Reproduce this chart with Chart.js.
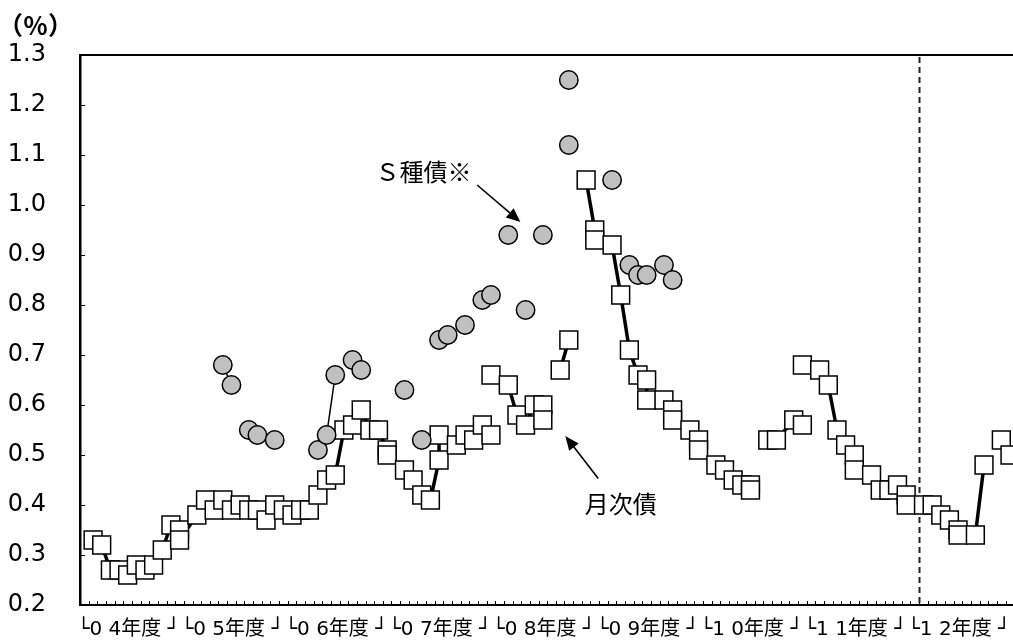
<!DOCTYPE html>
<html>
<head>
<meta charset="utf-8">
<script src="https://cdn.jsdelivr.net/npm/chart.js@4.4.1/dist/chart.umd.min.js"></script>
<style>
  html, body { margin: 0; padding: 0; background: #fff; }
  #wrap { width: 1013px; height: 641px; }
</style>
</head>
<body>
<div id="wrap"><canvas id="chart" width="1013" height="641"></canvas></div>
<script>
// month index counted from April 2004 (FY04 = 0..11), rates in %
// null rate = break in the line
const monthlyIdx = [
  0, 1, 2, 3, 4, 5, 6, 7, 8, 9,
  10, 10, 12, 13, 14, 15, 16, 17, 18, 19,
  20, 21, 22, 23, 24, 25, 26, 27, 28, 29,
  30, 31, 32, 33, 34, 34, 36, 37, 38, 39,
  40, 40, 42, 43, 44, 45, 46, 46, 46, 48,
  49, 50, 51, 52, 52, 53, 54, 55, 56, 57,
  58, 58, 60, 61, 62, 63, 64, 64, 66, 67,
  67, 69, 70, 70, 72, 73, 74, 75, 76, 76,
  77, 78, 79, 81, 82, 82, 82, 84, 85, 86,
  87, 88, 88, 90, 91, 92, 93, 94, 94, 96,
  97, 98, 99, 100, 100, 102, 103, 104, 105, 106
];
const monthlyRate = [
  0.33, 0.32, 0.27, 0.27, 0.26, 0.28, 0.27, 0.28, 0.31, 0.36,
  0.35, 0.33, 0.38, 0.41, 0.39, 0.41, 0.39, 0.40, 0.39, 0.39,
  0.37, 0.40, 0.39, 0.38, 0.39, 0.39, 0.42, 0.45, 0.46, 0.55,
  0.56, 0.59, 0.55, 0.55, 0.51, 0.50, 0.47, 0.45, 0.42, 0.41,
  0.49, 0.54, 0.52, 0.54, 0.53, 0.56, 0.54, null, 0.66, 0.64,
  0.58, 0.56, 0.60, 0.60, 0.57, null, 0.67, 0.73, null, 1.05,
  0.95, 0.93, 0.92, 0.82, 0.71, 0.66, 0.65, 0.61, 0.61, 0.59,
  0.57, 0.55, 0.53, 0.51, 0.48, 0.47, 0.45, 0.44, 0.44, 0.43,
  null, 0.53, 0.53, 0.57, 0.56, null, 0.68, 0.67, 0.64, 0.55,
  0.52, 0.50, 0.47, 0.46, 0.43, 0.43, 0.44, 0.42, 0.40, 0.40,
  0.40, 0.38, 0.37, 0.35, 0.34, 0.34, 0.48, null, 0.53, 0.50
];

// S種債 (issued irregularly)
const sIdx = [15, 16, 18, 19, 21, 26, 27, 28, 30, 31, 36, 38, 40, 41, 43, 45, 46, 48, 50, 52, 55, 55, 60, 62, 63, 64, 66, 67];
const sRate = [0.68, 0.64, 0.55, 0.54, 0.53, 0.51, 0.54, 0.66, 0.69, 0.67, 0.63, 0.53, 0.73, 0.74, 0.76, 0.81, 0.82, 0.94, 0.79, 0.94, 1.25, 1.12, 1.05, 0.88, 0.86, 0.86, 0.88, 0.85];

const yTicks = [0.2, 0.3, 0.4, 0.5, 0.6, 0.7, 0.8, 0.9, 1.0, 1.1, 1.2, 1.3];
const fyLabels = ["└0 4年度 ┘", "└0 5年度 ┘", "└0 6年度 ┘", "└0 7年度 ┘", "└0 8年度 ┘",
                  "└0 9年度 ┘", "└1 0年度 ┘", "└1 1年度 ┘", "└1 2年度 ┘"];
const monthCount = 108;
const fy12Start = 95.5;

const notes = [
  { text: "Ｓ種債※", x: 38.2, y: 1.067, from: [44.4, 1.04], to: [49.4, 0.966] },
  { text: "月次債", x: 61.0, y: 0.403, from: [58.4, 0.453], to: [54.6, 0.538] }
];

function monthlyPoints() {
  let pts = [];
  for (let i = 0; i < monthlyIdx.length; i++) {
    pts.push({ x: monthlyIdx[i], y: monthlyRate[i] });
  }
  return pts;
}

function sPoints() {
  let pts = [];
  for (let i = 0; i < sIdx.length; i++) {
    if (i > 0 && sIdx[i] - sIdx[i - 1] !== 1) {
      pts.push({ x: (sIdx[i] + sIdx[i - 1]) / 2, y: null });
    }
    pts.push({ x: sIdx[i], y: sRate[i] });
  }
  return pts;
}

function drawArrow(ctx, x1, y1, x2, y2) {
  let ang = Math.atan2(y2 - y1, x2 - x1);
  let head = 14, half = 6;
  ctx.beginPath();
  ctx.moveTo(x1, y1);
  ctx.lineTo(x2 - Math.cos(ang) * head * 0.8, y2 - Math.sin(ang) * head * 0.8);
  ctx.stroke();
  ctx.beginPath();
  ctx.moveTo(x2, y2);
  ctx.lineTo(x2 - Math.cos(ang) * head - Math.sin(ang) * half, y2 - Math.sin(ang) * head + Math.cos(ang) * half);
  ctx.lineTo(x2 - Math.cos(ang) * head + Math.sin(ang) * half, y2 - Math.sin(ang) * head - Math.cos(ang) * half);
  ctx.closePath();
  ctx.fill();
}

const frame = {
  id: "frame",
  beforeDatasetsDraw(chart) {
    let ctx = chart.ctx;
    let area = chart.chartArea;
    let xs = chart.scales.x;
    let ys = chart.scales.y;
    ctx.save();
    ctx.strokeStyle = "#000";
    // top border
    ctx.lineWidth = 2;
    ctx.beginPath();
    ctx.moveTo(area.left, area.top);
    ctx.lineTo(chart.width, area.top);
    ctx.stroke();
    // y tick marks, inside
    ctx.lineWidth = 1;
    for (let v of yTicks) {
      let py = Math.round(ys.getPixelForValue(v)) + 0.5;
      ctx.beginPath();
      ctx.moveTo(area.left, py);
      ctx.lineTo(area.left + 5, py);
      ctx.stroke();
    }
    // month tick marks
    for (let k = 0; k < monthCount; k++) {
      let px = Math.round(xs.getPixelForValue(k - 0.5)) + 0.5;
      if (px <= area.left + 1 || px > chart.width) continue;
      ctx.beginPath();
      ctx.moveTo(px, area.bottom);
      ctx.lineTo(px, area.bottom - 4);
      ctx.stroke();
    }
    // FY12 dashed line
    let dx = Math.round(xs.getPixelForValue(fy12Start)) + 0.5;
    ctx.strokeStyle = "#222";
    ctx.lineWidth = 2;
    ctx.setLineDash([6, 4]);
    ctx.beginPath();
    ctx.moveTo(dx, area.top + 2);
    ctx.lineTo(dx, area.bottom);
    ctx.stroke();
    ctx.restore();
  },
  afterDatasetsDraw(chart) {
    let ctx = chart.ctx;
    let area = chart.chartArea;
    let xs = chart.scales.x;
    let ys = chart.scales.y;
    ctx.save();
    ctx.fillStyle = "#000";
    ctx.strokeStyle = "#000";
    ctx.textBaseline = "middle";
    ctx.textAlign = "center";

    // fiscal year labels
    ctx.font = "20px 'DejaVu Sans', 'Noto Sans CJK JP'";
    for (let k = 0; k < fyLabels.length; k++) {
      let px = xs.getPixelForValue(12 * k + 4.1);
      ctx.fillText(fyLabels[k], px, area.bottom + 25);
    }

    // unit
    ctx.textAlign = "left";
    ctx.font = "bold 25px 'Noto Sans CJK JP'";
    ctx.fillText("（％）", area.left - 82, area.top - 30);

    // notes with arrows
    ctx.textAlign = "center";
    ctx.font = "24px 'Noto Sans CJK JP'";
    ctx.lineWidth = 1.6;
    for (let n of notes) {
      ctx.fillText(n.text, xs.getPixelForValue(n.x), ys.getPixelForValue(n.y));
      drawArrow(ctx,
        xs.getPixelForValue(n.from[0]), ys.getPixelForValue(n.from[1]),
        xs.getPixelForValue(n.to[0]), ys.getPixelForValue(n.to[1]));
    }
    ctx.restore();
  }
};

new Chart(document.getElementById("chart"), {
  type: "line",
  data: {
    datasets: [
      {
        label: "S種債",
        data: sPoints(),
        borderColor: "#000",
        borderWidth: 1.5,
        pointStyle: "circle",
        pointRadius: 9.2,
        pointBackgroundColor: "#c0c0c0",
        pointBorderColor: "#000",
        pointBorderWidth: 1.5,
        spanGaps: false,
        tension: 0,
        clip: false,
        order: 1
      },
      {
        label: "月次債",
        data: monthlyPoints(),
        borderColor: "#000",
        borderWidth: 3.5,
        pointStyle: "rect",
        pointRadius: 12.6,
        pointBackgroundColor: "#fff",
        pointBorderColor: "#000",
        pointBorderWidth: 1.5,
        spanGaps: false,
        tension: 0,
        clip: false,
        order: 2
      }
    ]
  },
  options: {
    responsive: false,
    animation: false,
    events: [],
    devicePixelRatio: 1,
    layout: { autoPadding: false, padding: { top: 55, bottom: 36, left: 0, right: 0 } },
    plugins: { legend: { display: false }, tooltip: { enabled: false } },
    scales: {
      x: {
        type: "linear",
        min: -1.51,
        max: 106.35,
        ticks: { display: false },
        grid: { display: false, drawTicks: false },
        border: { display: true, color: "#000", width: 2 },
        afterFit(s) { s.height = 0; }
      },
      y: {
        type: "linear",
        min: 0.2,
        max: 1.3,
        afterBuildTicks(s) { s.ticks = yTicks.map(v => ({ value: v })); },
        ticks: {
          callback: v => v.toFixed(1),
          color: "#000",
          padding: 34,
          font: { family: "DejaVu Sans", size: 24 }
        },
        grid: { display: false, drawTicks: false },
        border: { display: true, color: "#000", width: 2.5 },
        afterFit(s) {
          s.width = 80;
          s.paddingTop = 0;
          s.paddingBottom = 0;
        }
      }
    }
  },
  plugins: [frame]
});
</script>
</body>
</html>
